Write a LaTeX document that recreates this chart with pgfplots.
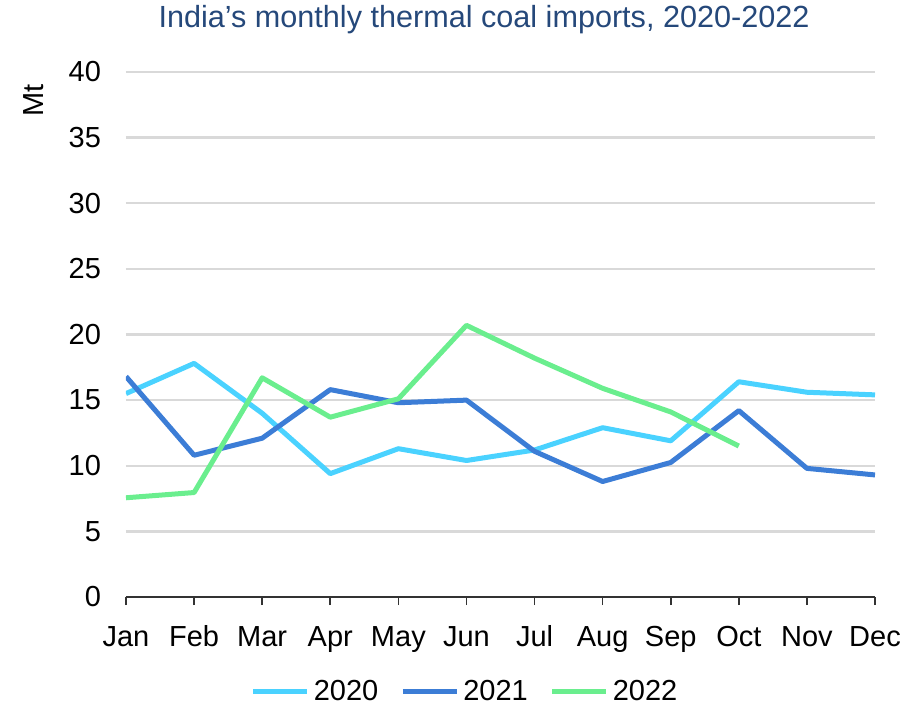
\documentclass[border=0pt]{standalone}
\usepackage{fontspec}
\setmainfont{Liberation Sans}
\usepackage{pgfplots}
\pgfplotsset{compat=1.18}

\definecolor{c2020}{RGB}{74,210,255}
\definecolor{c2021}{RGB}{60,125,214}
\definecolor{c2022}{RGB}{106,238,142}
\definecolor{ctitle}{RGB}{37,72,122}
\definecolor{cgrid}{RGB}{217,217,217}

\begin{document}
\begin{tikzpicture}
  \begin{axis}[
    name=ax, scale only axis,
    width=374.5pt, height=262.5pt,
    xmin=0, xmax=11, ymin=0, ymax=40,
    xtick={0,...,11},
    xticklabels={Jan,Feb,Mar,Apr,May,Jun,Jul,Aug,Sep,Oct,Nov,Dec},
    ytick={0,5,...,40},
    axis y line*=left, axis x line*=bottom,
    y axis line style={draw=none},
    x axis line style={black!80, line width=0.8pt, -},
    xtick style={black!80, line width=0.8pt},
    tick align=outside, major tick length=4pt,
    ytick style={draw=none},
    ymajorgrids, grid style={cgrid, line width=1.2pt},
    /pgf/number format/assume math mode=true,
    tick label style={font=\fontsize{14.5}{17}\selectfont, black},
    xticklabel style={anchor=base, yshift=-20.5pt},
    yticklabel style={xshift=-5pt},
    ylabel={Mt}, ylabel style={font=\fontsize{14.5}{17}\selectfont,
      at={(axis description cs:-0.101,0.99)}, anchor=south east},
    legend columns=3,
    legend style={draw=none, font=\fontsize{14.5}{17}\selectfont,
      at={(axis description cs:0.454,-0.18)}, anchor=center,
      /tikz/every even column/.append style={column sep=9pt}},
    legend image code/.code={\draw[#1, line width=2.5pt] (0pt,0pt) -- (27pt,0pt);},
    every axis plot/.append style={line width=2.5pt, line join=round, no markers},
  ]
    \addplot[c2020] coordinates {(0,15.5)(1,17.8)(2,14.0)(3,9.4)(4,11.3)(5,10.4)(6,11.2)(7,12.9)(8,11.9)(9,16.4)(10,15.6)(11,15.4)};
    \addlegendentry{2020}
    \addplot[c2021] coordinates {(0,16.8)(1,10.8)(2,12.1)(3,15.8)(4,14.8)(5,15.0)(6,11.1)(7,8.8)(8,10.25)(9,14.2)(10,9.8)(11,9.3)};
    \addlegendentry{2021}
    \addplot[c2022] coordinates {(0,7.56)(1,7.96)(2,16.7)(3,13.7)(4,15.1)(5,20.7)(6,18.2)(7,15.9)(8,14.1)(9,11.5)};
    \addlegendentry{2022}
  \end{axis}
  % chart title, placed above the plot area
  \path (ax.north west) -- (ax.north east)
    node[pos=0.478, yshift=26pt, anchor=center, inner sep=0pt,
         font=\fontsize{15.3}{18}\selectfont, text=ctitle]
    {India’s monthly thermal coal imports, 2020-2022};
  \pgfresetboundingbox
  \path[use as bounding box] ([xshift=-63pt,yshift=-54.5pt]ax.south west) rectangle ([xshift=24.5pt,yshift=36pt]ax.north east);
\end{tikzpicture}
\end{document}
